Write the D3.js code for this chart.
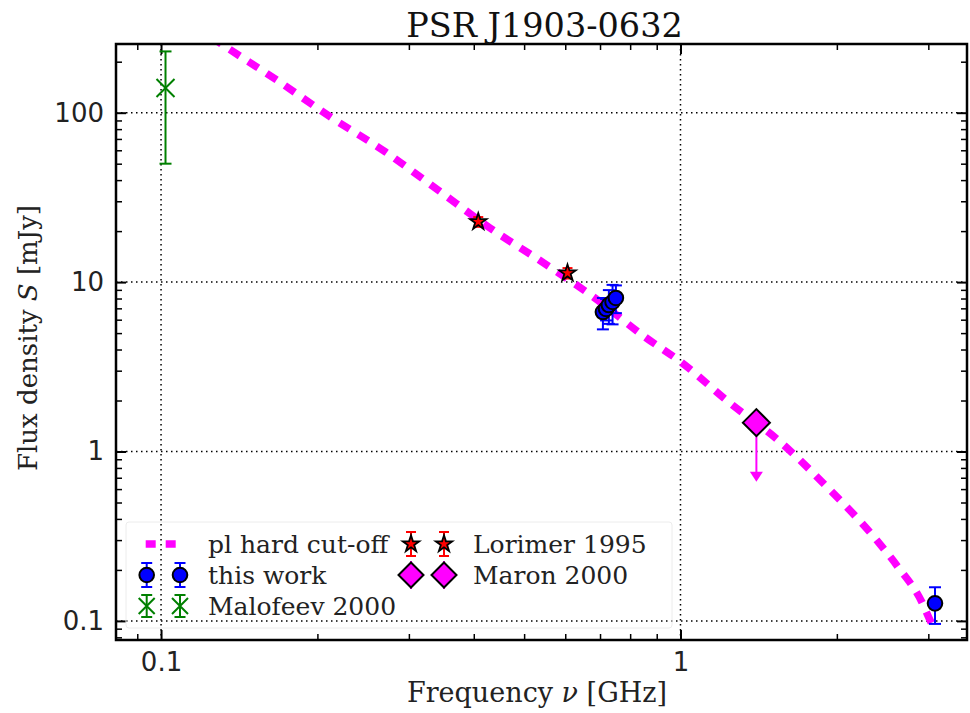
<!DOCTYPE html>
<html><head><meta charset="utf-8">
<script src="https://cdn.jsdelivr.net/npm/d3@7"></script>
<style>body{margin:0;background:#fff} svg{display:block}</style>
</head><body>
<svg id="chart" width="970" height="713"></svg>
<script>
// ---- data ----
const modelFreq = [0.125, 0.1316, 0.167, 0.2115, 0.2699, 0.3413, 0.4298, 0.5405, 0.6787, 0.8546, 1.0, 1.245, 1.554, 1.898, 2.386, 2.623, 2.913, 3.022, 3.09];
const modelFlux = [279, 250.9, 156, 94.7, 58.9, 34.97, 20.86, 13.2, 8.2, 4.74, 3.39, 1.933, 1.143, 0.634, 0.300, 0.208, 0.1298, 0.1012, 0.088];
const thisWorkFreq = [0.709, 0.719, 0.728, 0.740, 0.751, 3.09];
const thisWorkFlux = [6.66, 6.94, 7.32, 7.63, 8.06, 0.127];
const thisWorkErr  = [1.4, 1.0, 1.65, 2.0, 1.5, 0.031];
const malofeevFreq = [0.102];
const malofeevFlux = [140];
const malofeevErr  = [90];
const lorimerFreq = [0.408, 0.606];
const lorimerFlux = [22.7, 11.3];
const lorimerErr  = [1.5, 0.8];
const maronFreq = [1.4];
const maronFlux = [1.48];
const xTickValues = [0.1, 1];
const xTickLabels = ["0.1", "1"];
const xMinorValues = [0.09, 0.2, 0.3, 0.4, 0.5, 0.6, 0.7, 0.8, 0.9, 2, 3];
const yTickValues = [0.1, 1, 10, 100];
const yTickLabels = ["0.1", "1", "10", "100"];
const yMinorValues = [0.08, 0.09, 0.2, 0.3, 0.4, 0.5, 0.6, 0.7, 0.8, 0.9, 2, 3, 4, 5, 6, 7, 8, 9, 20, 30, 40, 50, 60, 70, 80, 90, 200];
const legendLabels = ["pl hard cut-off", "this work", "Malofeev 2000", "Lorimer 1995", "Maron 2000"];
const titleText = "PSR J1903-0632";

// ---- layout ----
const m = {left: 116, right: 967, top: 44, bottom: 640};
const serif = "DejaVu Serif", sans = "DejaVu Sans";
const svg = d3.select("#chart");
const x = d3.scaleLog().domain([0.0819, 3.561]).range([m.left, m.right]);
const y = d3.scaleLog().domain([0.07715, 254.4]).range([m.bottom, m.top]);

svg.append("defs").append("clipPath").attr("id", "clip")
  .append("rect").attr("x", m.left).attr("y", m.top)
  .attr("width", m.right - m.left).attr("height", m.bottom - m.top);

// grid
const grid = svg.append("g").attr("stroke", "#000").attr("stroke-width", 1.5)
  .attr("stroke-dasharray", "1.5,3.5");
grid.selectAll(".gx").data(xTickValues).join("line")
  .attr("x1", d => x(d)).attr("x2", d => x(d)).attr("y1", m.top).attr("y2", m.bottom);
grid.selectAll(".gy").data(yTickValues).join("line")
  .attr("y1", d => y(d)).attr("y2", d => y(d)).attr("x1", m.left).attr("x2", m.right);

// axes
function styleAxis(g) { g.select(".domain").remove(); g.selectAll("line").attr("stroke", "#000"); }
const majLen = 10, minLen = 6;
svg.append("g").attr("transform", `translate(0,${m.bottom})`)
  .call(d3.axisBottom(x).tickValues(xTickValues).tickFormat((d, i) => xTickLabels[i]).tickSize(-majLen).tickPadding(13))
  .call(styleAxis)
  .call(g => { g.selectAll("line").attr("stroke-width", 2); g.selectAll("text").attr("font-family", sans).attr("font-size", 26).attr("fill", "#222"); });
svg.append("g").attr("transform", `translate(0,${m.bottom})`)
  .call(d3.axisBottom(x).tickValues(xMinorValues).tickFormat("").tickSize(-minLen))
  .call(styleAxis).call(g => g.selectAll("line").attr("stroke-width", 1.5));
svg.append("g").attr("transform", `translate(0,${m.top})`)
  .call(d3.axisTop(x).tickValues(xTickValues).tickFormat("").tickSize(-majLen))
  .call(styleAxis).call(g => g.selectAll("line").attr("stroke-width", 2));
svg.append("g").attr("transform", `translate(0,${m.top})`)
  .call(d3.axisTop(x).tickValues(xMinorValues).tickFormat("").tickSize(-minLen))
  .call(styleAxis).call(g => g.selectAll("line").attr("stroke-width", 1.5));
svg.append("g").attr("transform", `translate(${m.left},0)`)
  .call(d3.axisLeft(y).tickValues(yTickValues).tickFormat((d, i) => yTickLabels[i]).tickSize(-majLen).tickPadding(12))
  .call(styleAxis)
  .call(g => { g.selectAll("line").attr("stroke-width", 2); g.selectAll("text").attr("font-family", sans).attr("font-size", 26).attr("fill", "#222"); });
svg.append("g").attr("transform", `translate(${m.left},0)`)
  .call(d3.axisLeft(y).tickValues(yMinorValues).tickFormat("").tickSize(-minLen))
  .call(styleAxis).call(g => g.selectAll("line").attr("stroke-width", 1.5));
svg.append("g").attr("transform", `translate(${m.right},0)`)
  .call(d3.axisRight(y).tickValues(yTickValues).tickFormat("").tickSize(-majLen))
  .call(styleAxis).call(g => g.selectAll("line").attr("stroke-width", 2));
svg.append("g").attr("transform", `translate(${m.right},0)`)
  .call(d3.axisRight(y).tickValues(yMinorValues).tickFormat("").tickSize(-minLen))
  .call(styleAxis).call(g => g.selectAll("line").attr("stroke-width", 1.5));

// legend frame (very faint)
svg.append("rect").attr("x", 126).attr("y", 522).attr("width", 546).attr("height", 106)
  .attr("rx", 3).attr("fill", "none").attr("stroke", "#ececec").attr("stroke-width", 1);

// model curve
const line = d3.line().x(d => x(d[0])).y(d => y(d[1])).curve(d3.curveMonotoneX);
svg.append("path").attr("clip-path", "url(#clip)")
  .datum(modelFreq.map((f, i) => [f, modelFlux[i]]))
  .attr("d", line).attr("fill", "none").attr("stroke", "#ff00ff")
  .attr("stroke-width", 7.5).attr("stroke-dasharray", "12,10");

// helpers
function errBar(g, cx, yTop, yBot, color, cap) {
  g.append("line").attr("x1", cx).attr("x2", cx).attr("y1", yTop).attr("y2", yBot)
    .attr("stroke", color).attr("stroke-width", 2);
  [yTop, yBot].forEach(yy => g.append("line").attr("x1", cx - cap / 2).attr("x2", cx + cap / 2)
    .attr("y1", yy).attr("y2", yy).attr("stroke", color).attr("stroke-width", 2));
}
const diamond = r => `M0,${-r}L${r},0L0,${r}L${-r},0Z`;
const starPath = d3.symbol().type(d3.symbolStar).size(85)();
const crossPath = r => `M${-r},${-r}L${r},${r}M${-r},${r}L${r},${-r}`;

const marks = svg.append("g").attr("clip-path", "url(#clip)");

// Malofeev
malofeevFreq.forEach((f, i) => {
  errBar(marks, x(f), y(malofeevFlux[i] + malofeevErr[i]), y(malofeevFlux[i] - malofeevErr[i]), "#008000", 12);
  marks.append("path").attr("d", crossPath(9)).attr("transform", `translate(${x(f)},${y(malofeevFlux[i])})`)
    .attr("stroke", "#008000").attr("stroke-width", 2).attr("fill", "none");
});
// Lorimer
lorimerFreq.forEach((f, i) => {
  errBar(marks, x(f), y(lorimerFlux[i] + lorimerErr[i]), y(lorimerFlux[i] - lorimerErr[i]), "#ff0000", 10);
  marks.append("path").attr("d", starPath).attr("transform", `translate(${x(f)},${y(lorimerFlux[i])})`)
    .attr("fill", "#ff0000").attr("stroke", "#000").attr("stroke-width", 1.8);
});
// this work
thisWorkFreq.forEach((f, i) => {
  errBar(marks, x(f), y(thisWorkFlux[i] + thisWorkErr[i]), y(thisWorkFlux[i] - thisWorkErr[i]), "#0000ff", 12);
});
thisWorkFreq.forEach((f, i) => {
  marks.append("circle").attr("cx", x(f)).attr("cy", y(thisWorkFlux[i])).attr("r", 7.3)
    .attr("fill", "#0000ff").attr("stroke", "#000").attr("stroke-width", 2);
});
// Maron (upper limit)
maronFreq.forEach((f, i) => {
  const cx = x(f), cy = y(maronFlux[i]);
  marks.append("line").attr("x1", cx).attr("x2", cx).attr("y1", cy).attr("y2", cy + 52)
    .attr("stroke", "#ff00ff").attr("stroke-width", 2);
  marks.append("path").attr("d", `M${cx - 6.5},${cy + 49}L${cx + 6.5},${cy + 49}L${cx},${cy + 59}Z`).attr("fill", "#ff00ff");
  marks.append("path").attr("d", diamond(13.5)).attr("transform", `translate(${cx},${cy})`)
    .attr("fill", "#ff00ff").attr("stroke", "#000").attr("stroke-width", 2);
});

// spines
svg.append("rect").attr("x", m.left).attr("y", m.top).attr("width", m.right - m.left).attr("height", m.bottom - m.top)
  .attr("fill", "none").attr("stroke", "#000").attr("stroke-width", 2.5);

// legend
const lg = svg.append("g");
const col1 = [146.7, 180], col2 = [411, 444];
const rows = [544, 575, 606];
lg.append("line").attr("x1", col1[0] - 1).attr("x2", col1[1]).attr("y1", rows[0]).attr("y2", rows[0])
  .attr("stroke", "#ff00ff").attr("stroke-width", 7.5).attr("stroke-dasharray", "10,10");
col1.forEach(cx => {
  errBar(lg, cx, rows[1] - 12, rows[1] + 12, "#0000ff", 11);
  lg.append("circle").attr("cx", cx).attr("cy", rows[1]).attr("r", 7.3).attr("fill", "#0000ff").attr("stroke", "#000").attr("stroke-width", 2);
  errBar(lg, cx, rows[2] - 11, rows[2] + 11, "#008000", 11);
  lg.append("path").attr("d", crossPath(8)).attr("transform", `translate(${cx},${rows[2]})`)
    .attr("stroke", "#008000").attr("stroke-width", 2).attr("fill", "none");
});
col2.forEach(cx => {
  errBar(lg, cx, rows[0] - 12, rows[0] + 12, "#ff0000", 10);
  lg.append("path").attr("d", starPath).attr("transform", `translate(${cx},${rows[0]})`)
    .attr("fill", "#ff0000").attr("stroke", "#000").attr("stroke-width", 1.8);
  lg.append("line").attr("x1", cx).attr("x2", cx).attr("y1", rows[1] - 14).attr("y2", rows[1] + 14)
    .attr("stroke", "#ff00ff").attr("stroke-width", 2);
  lg.append("path").attr("d", diamond(12.5)).attr("transform", `translate(${cx},${rows[1]})`)
    .attr("fill", "#ff00ff").attr("stroke", "#000").attr("stroke-width", 2);
});
const legendPos = [[208, rows[0]], [208, rows[1]], [208, rows[2]], [473, rows[0]], [473, rows[1]]];
legendLabels.forEach((t, i) => {
  lg.append("text").attr("x", legendPos[i][0]).attr("y", legendPos[i][1]).attr("dy", "0.36em")
    .attr("font-family", serif).attr("font-size", 25).attr("fill", "#222").text(t);
});

// title and labels
svg.append("text").attr("x", 544.5).attr("y", 36.5).attr("text-anchor", "middle")
  .attr("font-family", serif).attr("font-size", 33.5).attr("fill", "#111").text(titleText);
const xl = svg.append("text").attr("x", 537).attr("y", 702).attr("text-anchor", "middle")
  .attr("font-family", serif).attr("font-size", 27).attr("fill", "#222");
xl.append("tspan").text("Frequency ");
xl.append("tspan").attr("font-style", "italic").text("ν");
xl.append("tspan").text(" [GHz]");
const yl = svg.append("text").attr("transform", "translate(37,338) rotate(-90)").attr("text-anchor", "middle")
  .attr("font-family", serif).attr("font-size", 26).attr("fill", "#222");
yl.append("tspan").text("Flux density ");
yl.append("tspan").attr("font-style", "italic").text("S");
yl.append("tspan").text(" [mJy]");
</script>
</body></html>
